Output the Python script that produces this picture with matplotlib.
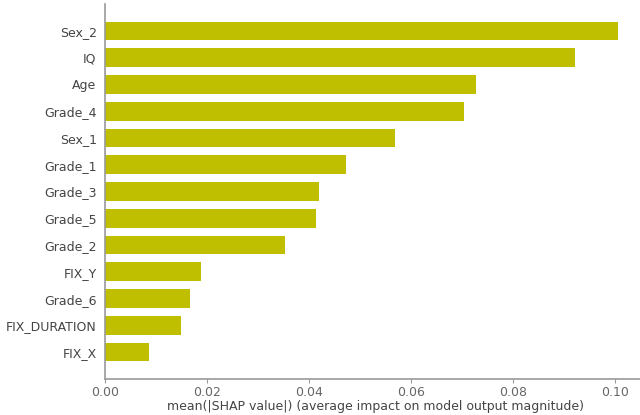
import matplotlib.pyplot as plt

# mean |SHAP| per feature, top to bottom
features = ["Sex_2", "IQ", "Age", "Grade_4", "Sex_1", "Grade_1", "Grade_3",
            "Grade_5", "Grade_2", "FIX_Y", "Grade_6", "FIX_DURATION", "FIX_X"]
mean_abs_shap = [0.1006, 0.0922, 0.0728, 0.0704, 0.0569, 0.0473, 0.0419,
                 0.0414, 0.0353, 0.0188, 0.0167, 0.0149, 0.0087]
xticks = [0.00, 0.02, 0.04, 0.06, 0.08, 0.10]

bar_color = "#bfbf00"
text_color = "#444444"
spine_color = "#9a9a9a"

fig = plt.figure(figsize=(6.4, 4.15), dpi=100)
ax = fig.add_axes([0.164, 0.087, 0.845, 0.903])

# lowest-importance feature at y=0, most important at the top
n = len(features)
y_pos = list(range(n))[::-1]
ax.barh(y_pos, mean_abs_shap, height=0.7, color=bar_color, align="center")

ax.set_yticks(y_pos)
ax.set_yticklabels(features, fontsize=9, color=text_color)
ax.set_ylim(-1, n)
ax.set_xlim(0, 0.106)
ax.set_xticks(xticks)
ax.set_xticklabels([f"{t:.2f}" for t in xticks], fontsize=9, color="#666666")
ax.set_xlabel("mean(|SHAP value|) (average impact on model output magnitude)",
              fontsize=9, color=text_color, labelpad=1)

for side in ("top", "right"):
    ax.spines[side].set_visible(False)
for side in ("left", "bottom"):
    ax.spines[side].set_color(spine_color)
    ax.spines[side].set_linewidth(1.2)
ax.tick_params(axis="y", length=0, pad=6)
ax.tick_params(axis="x", length=3, color=spine_color, pad=2)

fig.savefig("out.png", dpi=100)
